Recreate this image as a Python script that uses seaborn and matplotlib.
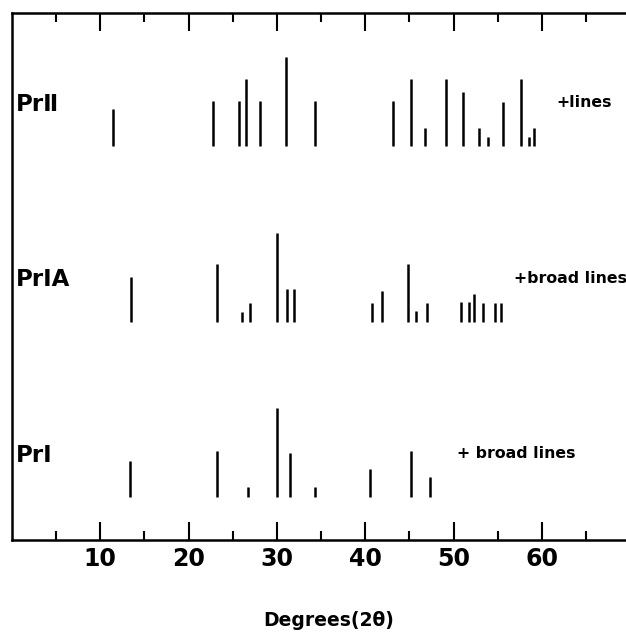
import numpy as np
import pandas as pd
import matplotlib
matplotlib.use("Agg")
import matplotlib.pyplot as plt
from matplotlib.ticker import FixedLocator
import seaborn as sns

# peak positions (degrees 2-theta) and relative intensities
pr2_deg = [11.4, 22.8, 25.7, 26.5, 28.1, 31.0, 34.3, 43.2, 45.2, 46.8, 49.2,
           51.1, 52.9, 53.9, 55.6, 57.6, 58.6, 59.1]
pr2_int = [42, 51, 51, 75, 51, 100, 51, 51, 75, 21, 75,
           61, 21, 11, 50, 75, 11, 21]

pr1a_deg = [13.5, 23.2, 26.1, 27.0, 30.0, 31.1, 31.9, 40.8, 41.9, 44.9, 45.8,
            47.0, 50.9, 51.8, 52.3, 53.3, 54.7, 55.4]
pr1a_int = [50, 65, 11, 21, 99, 37, 37, 21, 35, 65, 12,
            21, 22, 22, 31, 21, 21, 21]

pr1_deg = [13.4, 23.2, 26.7, 30.0, 31.5, 34.3, 40.5, 45.2, 47.3]
pr1_int = [41, 52, 12, 100, 50, 11, 32, 52, 23]

phase_names = ["PrⅡ", "PrⅠA", "PrⅠ"]
phase_notes = ["+lines", "+broad lines", "+ broad lines"]
phase_offset = [392, 196, 0]
note_x = [61.7, 56.9, 50.4]

major_ticks = [10, 20, 30, 40, 50, 60]
minor_ticks = [5, 15, 25, 35, 45, 55, 65]
tick_labels = ["10", "20", "30", "40", "50", "60"]

# long table: each peak is a vertical stick from the baseline up
rows = []
sets = [(pr2_deg, pr2_int), (pr1a_deg, pr1a_int), (pr1_deg, pr1_int)]
for name, off, (degs, ints) in zip(phase_names, phase_offset, sets):
    for i, (d, h) in enumerate(zip(degs, ints)):
        key = f"{name}_{i}"
        rows.append({"phase": name, "peak": key, "deg": d, "y": off})
        rows.append({"phase": name, "peak": key, "deg": d, "y": off + h})
df = pd.DataFrame(rows)

sns.set_style("white")
plt.rcParams["font.family"] = ["DejaVu Sans"]
plt.rcParams["text.color"] = "black"
plt.rcParams["axes.labelcolor"] = "black"
plt.rcParams["xtick.color"] = "black"

fig = plt.figure(figsize=(6.26, 6.33), dpi=100)
ax = fig.add_axes([12 / 626, 93 / 633, 614 / 626, 526.7 / 633])

sns.lineplot(data=df, x="deg", y="y", units="peak", estimator=None, sort=False,
             color="black", linewidth=1.8, solid_capstyle="butt", ax=ax, legend=False)

ax.set_xlim(0, 614 / 8.83)
ax.set_ylim(-47.7, 540.8)

for name, off, note, nx in zip(phase_names, phase_offset, phase_notes, note_x):
    ax.text(0.45, off + 47, name, fontsize=16.5, fontweight="bold",
            ha="left", va="center")
    ax.text(nx, off + 49, note, fontsize=11.3, fontweight="bold",
            ha="left", va="center")

ax.xaxis.set_major_locator(FixedLocator(major_ticks))
ax.xaxis.set_minor_locator(FixedLocator(minor_ticks))
ax.set_xticklabels(tick_labels, fontweight="bold", fontsize=17)
ax.set_yticks([])
ax.tick_params(axis="x", which="major", direction="in", length=12.8, width=1.5,
               top=True, bottom=True, pad=5)
ax.tick_params(axis="x", which="minor", direction="in", length=6.5, width=1.5,
               top=True, bottom=True)

for side in ["left", "top", "bottom"]:
    ax.spines[side].set_visible(True)
    ax.spines[side].set_color("black")
    ax.spines[side].set_linewidth(1.8)
ax.spines["right"].set_visible(False)

ax.set_xlabel("Degrees(2θ)", fontsize=13.5, fontweight="bold")
ax.xaxis.set_label_coords(0.516, -0.152)
ax.xaxis.label.set_va("center")
ax.set_ylabel("")

fig.savefig("out.png", dpi=100)
